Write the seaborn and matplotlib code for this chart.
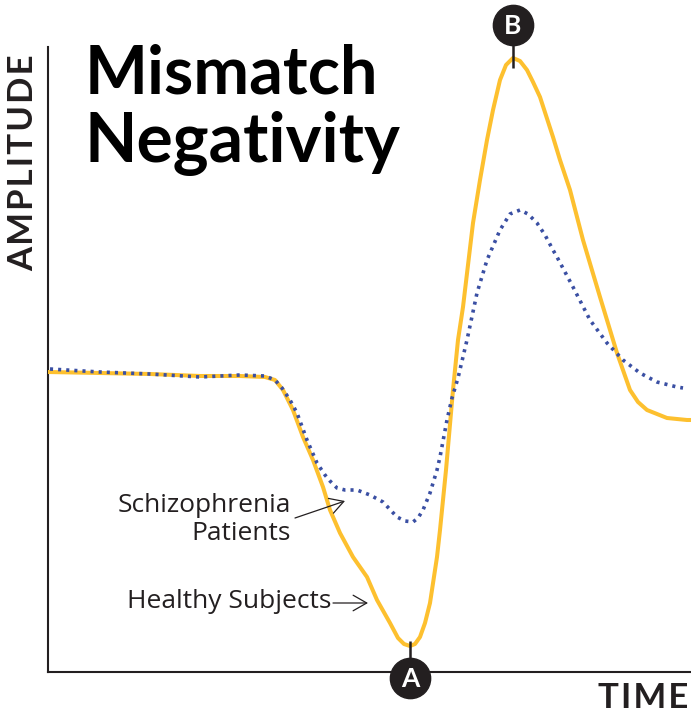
import numpy as np
import pandas as pd
import matplotlib
matplotlib.use("Agg")
import matplotlib.pyplot as plt
import seaborn as sns

# ---- data (time in arbitrary units, amplitude in arbitrary units) ----
healthy_time = [0, 52, 102, 152, 192, 217, 227, 235, 245, 255, 265, 275, 282, 292, 305, 319, 329, 342,
                350, 356, 362, 367, 372, 377, 382, 389, 392, 398, 405, 410, 415, 420, 425, 432, 439, 445,
                452, 458, 465, 472, 479, 485, 492, 505, 512, 522, 535, 552, 569, 582, 590, 599, 619, 639, 643]
healthy_amp = [300, 299, 298, 296, 296, 295, 292, 282, 262, 235, 212, 185, 162, 139, 115, 95, 72, 49,
               34, 28, 26, 28, 35, 49, 69, 115, 142, 202, 282, 332, 365, 407, 449, 492, 532, 562,
               592, 607, 614, 611, 602, 590, 575, 535, 512, 482, 432, 375, 319, 282, 270, 262, 254, 252, 252]

patients_time = [2, 52, 102, 152, 192, 217, 227, 234, 242, 249, 259, 269, 277, 282, 289, 297, 309, 322,
                 335, 349, 357, 365, 370, 375, 382, 389, 392, 399, 404, 410, 419, 429, 439, 452, 462, 472,
                 480, 489, 497, 505, 509, 525, 542, 559, 575, 592, 609, 629, 635]
patients_amp = [303, 300, 298, 295, 297, 296, 292, 284, 272, 259, 232, 209, 197, 191, 184, 182, 182, 177,
                170, 155, 151, 150, 154, 162, 179, 202, 215, 252, 274, 294, 332, 379, 412, 442, 458, 462,
                458, 449, 437, 422, 415, 385, 352, 329, 312, 299, 290, 285, 284]

group_labels = ["Healthy Subjects", "Schizophrenia\nPatients"]
title_lines = ["Mismatch", "Negativity"]
x_label = "TIME"
y_label = "AMPLITUDE"
marker_labels = ["A", "B"]

YELLOW = "#FDC02F"
BLUE = "#3A4FA3"
INK = "#231F20"

sns.set_style("white")
plt.rcParams["font.family"] = ["Open Sans", "DejaVu Sans"]
BOLD_FAMILY = ["Lato", "Open Sans", "DejaVu Sans"]

W, H = 691, 715
fig = plt.figure(figsize=(W / 100, H / 100), dpi=100)
ax = fig.add_axes([48 / W, 43 / H, 643 / W, 625 / H])

df_h = pd.DataFrame({"time": healthy_time, "amp": healthy_amp})
df_p = pd.DataFrame({"time": patients_time, "amp": patients_amp})

sns.lineplot(data=df_h, x="time", y="amp", ax=ax, color=YELLOW, lw=2.9, sort=False,
             solid_capstyle="round", solid_joinstyle="round", zorder=3)
sns.lineplot(data=df_p, x="time", y="amp", ax=ax, color=BLUE, lw=2.6, sort=False,
             linestyle=(0, (0.85, 1.4)), dash_capstyle="butt", zorder=4)

ax.set_xlim(0, 643)
ax.set_ylim(0, 625)
ax.set_xticks([])
ax.set_yticks([])
ax.set_xlabel("")
ax.set_ylabel("")
for s in ["top", "right"]:
    ax.spines[s].set_visible(False)
for s in ["left", "bottom"]:
    ax.spines[s].set_color(INK)
    ax.spines[s].set_linewidth(1.5)

# ---- markers A (minimum) and B (maximum) of the healthy curve ----
h_t = np.array(healthy_time)
h_a = np.array(healthy_amp)
iA, iB = int(np.argmin(h_a)), int(np.argmax(h_a))
tA, aA = h_t[iA], h_a[iA]
tB, aB = h_t[iB], h_a[iB]
cA = aA - 32
cB = aB + 33
ax.plot([tA, tA], [aA + 5, cA], color=INK, lw=1.8, clip_on=False, zorder=6, solid_capstyle="butt")
ax.plot([tB, tB], [aB - 10, cB], color=INK, lw=1.8, clip_on=False, zorder=6, solid_capstyle="butt")
for (tc, ac, lab) in [(tA, cA, marker_labels[0]), (tB, cB, marker_labels[1])]:
    ax.plot([tc], [ac], marker="o", markersize=29, color=INK, mec=INK, clip_on=False, zorder=7)
    ax.text(tc, ac - 9, lab, color="white", fontsize=19, fontweight="bold", family=BOLD_FAMILY,
            ha="center", va="baseline", zorder=8, clip_on=False)


def fpx(x, y):
    return (x / W, 1 - y / H)


# ---- title ----
fig.text(*fpx(85, 93), title_lines[0], fontsize=48, fontweight="bold", color="black",
         family=BOLD_FAMILY, ha="left", va="baseline")
fig.text(*fpx(85, 162), title_lines[1], fontsize=49, fontweight="bold", color="black",
         family=BOLD_FAMILY, ha="left", va="baseline")

# ---- axis labels ----
fig.text(*fpx(33, 163), "\u200a".join(y_label), fontsize=25, fontweight="bold", color=INK,
         family=BOLD_FAMILY, rotation=90, rotation_mode="anchor", ha="center", va="baseline")
fig.text(*fpx(688, 714), "\u200a".join(x_label), fontsize=25, fontweight="bold", color=INK,
         family=BOLD_FAMILY, ha="right", va="bottom")

# ---- group annotations ----
sch1, sch2 = group_labels[1].split("\n")
fig.text(*fpx(291, 512), sch1, fontsize=19, color=INK, ha="right", va="baseline")
fig.text(*fpx(291, 540), sch2, fontsize=19, color=INK, ha="right", va="baseline")
fig.text(*fpx(331, 608), group_labels[0], fontsize=19, color=INK, ha="right", va="baseline")

arrow = dict(arrowstyle="->,head_length=0.7,head_width=0.4", color=INK, lw=0.9,
             shrinkA=0, shrinkB=0, mutation_scale=14)
ax.annotate("", xy=(345, H - 501), xytext=(295, H - 518), xycoords="figure pixels",
            textcoords="figure pixels", arrowprops=arrow)
ax.annotate("", xy=(368, H - 603), xytext=(333, H - 603), xycoords="figure pixels",
            textcoords="figure pixels", arrowprops=arrow)

fig.savefig("out.png", dpi=100)
